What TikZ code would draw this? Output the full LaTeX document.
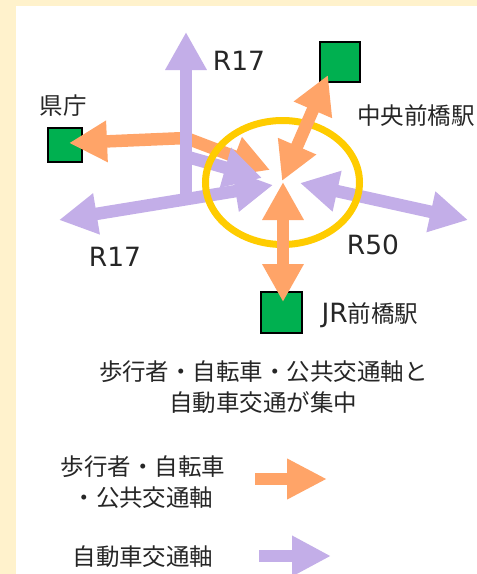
\documentclass[tikz,border=0pt]{standalone}
\usepackage{fontspec}
\newfontfamily\cjk{Noto Sans CJK JP}
\newfontfamily\lat{DejaVu Sans}
\usetikzlibrary{arrows.meta}
\definecolor{cream}{HTML}{FFF2CC}
\definecolor{oarr}{HTML}{FFA468}
\definecolor{parr}{HTML}{C3AEE8}
\definecolor{sqgreen}{HTML}{00B050}
\definecolor{ringy}{HTML}{FFCC00}
\definecolor{txt}{HTML}{262626}
\begin{document}
\begin{tikzpicture}[x=1pt,y=-1pt,
  dbl/.style={{Triangle[width=39pt,length=38pt]}-{Triangle[width=39pt,length=38pt]}},
  sgl/.style={-{Triangle[width=39pt,length=38pt]}},
  oband/.style={draw=oarr, line width=12.5pt, line join=miter},
  pband/.style={draw=parr, line width=12.5pt, line join=miter},
  sqbox/.style={draw=black, line width=2pt, fill=sqgreen, inner sep=0pt, minimum size=#1},
  jp/.style={font=\cjk\fontsize{23.5}{31}\selectfont, inner sep=0pt, text=txt},
  rl/.style={font=\lat\fontsize{26.5}{31}\selectfont, inner sep=0pt, text=txt},
]
\useasboundingbox (0,0) rectangle (477,574);
\fill[cream] (0,0) rectangle (477,574);
\fill[white] (16,6) rectangle (477,574);

% stations
\node[sqbox=34pt] (ken) at (65,144.5) {};
\node[sqbox=40pt] (chuo) at (339.5,62) {};
\node[sqbox=41pt] (jr) at (281.5,312.5) {};

% coordinates
\coordinate (kt) at (69,143);
\coordinate (kbend) at (186,138);
\coordinate (kc) at (270,170);
\coordinate (ct) at (328,75);
\coordinate (cc) at (282,181);
\coordinate (jt) at (283,302);
\coordinate (jc) at (283,182);
\coordinate (ptop) at (186,32);
\coordinate (pjun) at (186,199);
\coordinate (pleft) at (59,220);
\coordinate (plc) at (273,185);
\coordinate (pup) at (186,156.5);
\coordinate (puc) at (262,178);
\coordinate (prc) at (300,183);
\coordinate (pright) at (468,220);

% orange to prefecture office (under purple)
\draw[oband, dbl] (kc) -- (kbend) -- (kt);

% purple car axes
\draw[pband, sgl] (pjun) -- (ptop);
\draw[pband, dbl] (pleft) -- (plc);
\draw[pband, sgl] (pup) -- (puc);
\draw[pband, dbl] (prc) -- (pright);

% ring
\draw[ringy, line width=7pt] (282.5,182.5) ellipse [x radius=77, y radius=62];

% orange to stations
\draw[oband, dbl] (cc) -- (ct);
\draw[oband, dbl] (jc) -- (jt);

% labels
\node[rl] (r17a) at (239,61) {R17};
\node[rl] (r17b) at (115,257) {R17};
\node[rl] (r50) at (373,245) {R50};
\node[jp] (kenl) at (63,106) {県庁};
\node[jp] (chuol) at (416,116) {中央前橋駅};
\node[jp] (jrl) at (370,315) {{\lat\fontsize{26.5}{31}\selectfont JR}前橋駅};

\node[jp, align=center] (cap) at (263.5,387.5) {歩行者・自転車・公共交通軸と\\自動車交通が集中};

% legend
\node[jp, align=center] (leg1) at (143,482.5) {歩行者・自転車\\・公共交通軸};
\node[jp] (leg2) at (143,557) {自動車交通軸};
\coordinate (lo1) at (255,479);
\coordinate (lo2) at (327,479);
\coordinate (lp1) at (259,556);
\coordinate (lp2) at (331,556);
\draw[draw=oarr, line width=12pt, -{Triangle[width=38pt,length=40pt]}] (lo1) -- (lo2);
\draw[draw=parr, line width=12.5pt, -{Triangle[width=38pt,length=39pt]}] (lp1) -- (lp2);
\end{tikzpicture}
\end{document}
